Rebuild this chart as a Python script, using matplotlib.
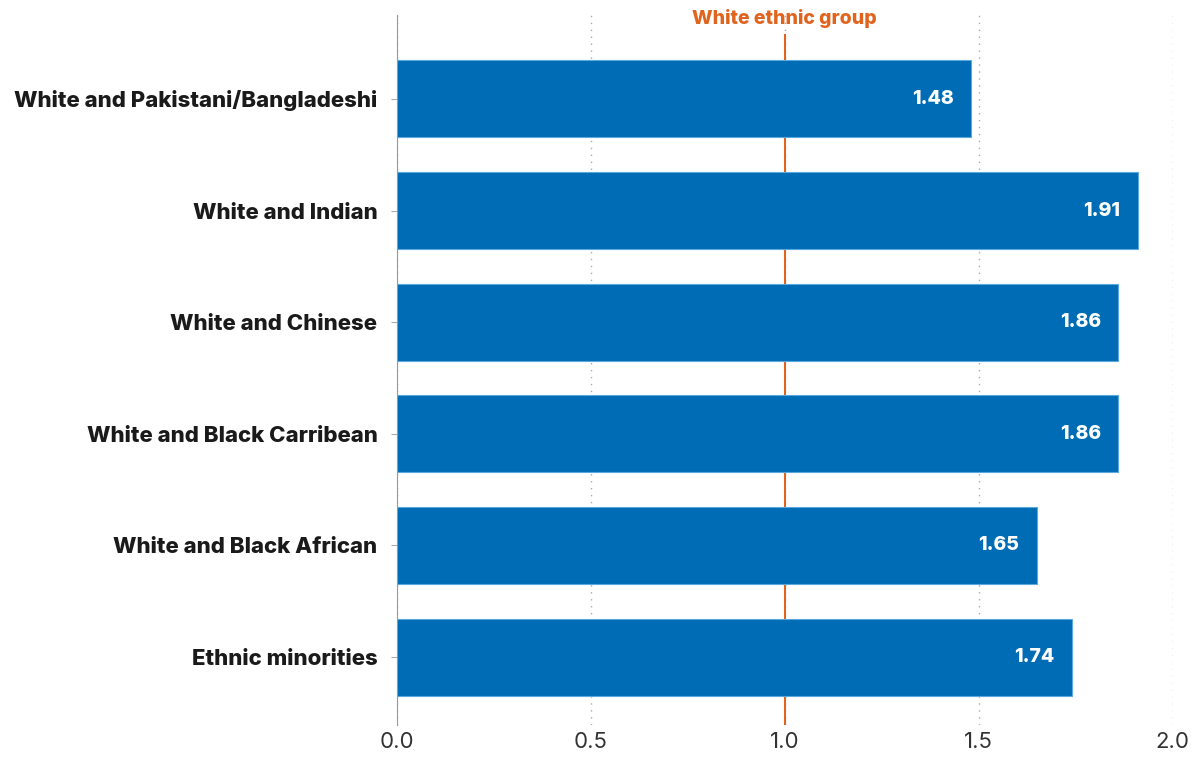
import matplotlib.pyplot as plt

categories = ['White and Pakistani/Bangladeshi', 'White and Indian', 'White and Chinese',
              'White and Black Carribean', 'White and Black African', 'Ethnic minorities']
values = [1.48, 1.91, 1.86, 1.86, 1.65, 1.74]
reference_value = 1.0
reference_label = 'White ethnic group'
x_ticks = [0.0, 0.5, 1.0, 1.5, 2.0]

bar_color = '#006cb5'
ref_color = '#e0641e'

plt.rcParams['font.family'] = ['Inter', 'DejaVu Sans']

fig = plt.figure(figsize=(11.99, 7.57), dpi=100)
ax = fig.add_axes([0.331, 0.042, 0.647, 0.938])

pos = list(range(len(categories)))
ax.barh(pos, values, height=0.69, color=bar_color, edgecolor='#5aa8dc', linewidth=0.8, zorder=3)

for p, v in zip(pos, values):
    ax.text(v - 0.045, p, f'{v:.2f}', ha='right', va='center', color='white',
            fontsize=14, fontweight='heavy', zorder=4)

ax.axvline(reference_value, ymax=0.972, color=ref_color, linewidth=1.5, zorder=2)
ax.text(reference_value, -0.72, reference_label, ha='center', va='center',
        color=ref_color, fontsize=14, fontweight='heavy')

ax.set_yticks(pos)
ax.set_yticklabels(categories, fontsize=16, fontweight='heavy', color='#1a1a1a')
ax.set_ylim(5.61, -0.75)
ax.set_xlim(0, 2.0)
ax.set_xticks(x_ticks)
ax.set_xticklabels([f'{t:.1f}' for t in x_ticks], fontsize=16, color='#333333')

ax.grid(axis='x', linestyle=(0, (1, 4)), color='#aaaaaa', linewidth=1, zorder=0)
for s in ['top', 'right', 'bottom']:
    ax.spines[s].set_visible(False)
ax.spines['left'].set_color('#999999')
ax.tick_params(axis='y', length=4, color='#aaaaaa', pad=10)
ax.tick_params(axis='x', length=0, pad=5)

fig.savefig('out.png', dpi=100)
